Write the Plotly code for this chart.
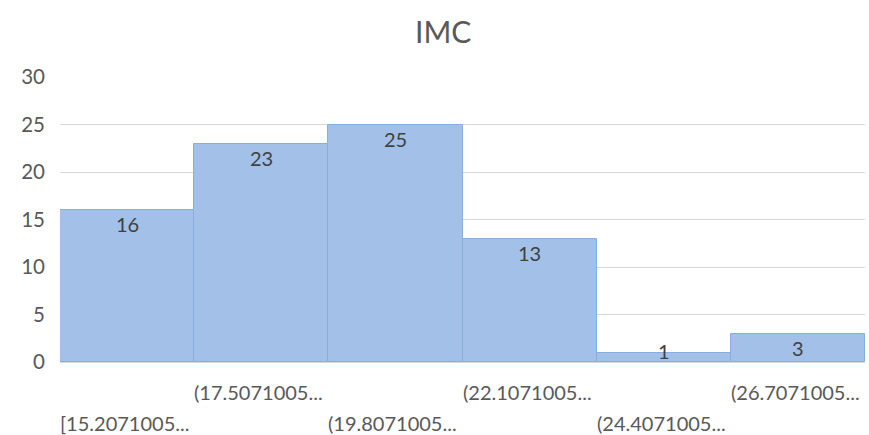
import plotly.graph_objects as go

bin_labels = ["[15.2071005...", "(17.5071005...", "(19.8071005...",
              "(22.1071005...", "(24.4071005...", "(26.7071005..."]
counts = [16, 23, 25, 13, 1, 3]
title = "IMC"

FONT = "Lato, 'Open Sans', sans-serif"
x = list(range(len(counts)))
Y_MAX = 30
PLOT_H = 435 - 77 - 73

fig = go.Figure()
fig.add_trace(go.Bar(
    x=x, y=counts, width=1,
    marker=dict(color="#a2c0e8", line=dict(color="#88aee0", width=1)),
    hoverinfo="y",
))

# value labels at the inside end of each bar (resting on the axis if the bar is too short)
for i, c in enumerate(counts):
    small = c * PLOT_H / Y_MAX < 24
    fig.add_annotation(
        x=i, xref="x", y=0 if small else c, yref="y",
        yanchor="bottom" if small else "top", yshift=-3 if small else 0,
        showarrow=False, text=str(c),
        font=dict(family=FONT, size=20, color="#404040"),
    )

for i, lab in enumerate(bin_labels):
    fig.add_annotation(
        x=i - 0.5, xref="x", y=0, yref="paper",
        yshift=-30 if i % 2 else -61,
        xanchor="left", xshift=-2, yanchor="middle", showarrow=False,
        text=lab, font=dict(family=FONT, size=20, color="#595959"),
    )

fig.update_layout(
    width=869, height=435,
    margin=dict(l=60, r=4, t=77, b=73),
    paper_bgcolor="white", plot_bgcolor="white",
    title=dict(text=title, x=0.51, xanchor="center", y=0.925, yanchor="middle",
               font=dict(family=FONT, size=30, color="#595959")),
    showlegend=False,
    bargap=0,
    xaxis=dict(range=[-0.5, len(counts) - 0.5], showticklabels=False, ticks="",
               showgrid=False, zeroline=False, showline=False),
    yaxis=dict(range=[0, Y_MAX], dtick=5, showgrid=True, gridcolor="#d9d9d9",
               gridwidth=1, zeroline=True, zerolinecolor="#d9d9d9", zerolinewidth=1,
               showline=False, ticks="",
               tickfont=dict(family=FONT, size=20.5, color="#595959"),
               ticklabelstandoff=14),
)

fig.write_html("out.html")
